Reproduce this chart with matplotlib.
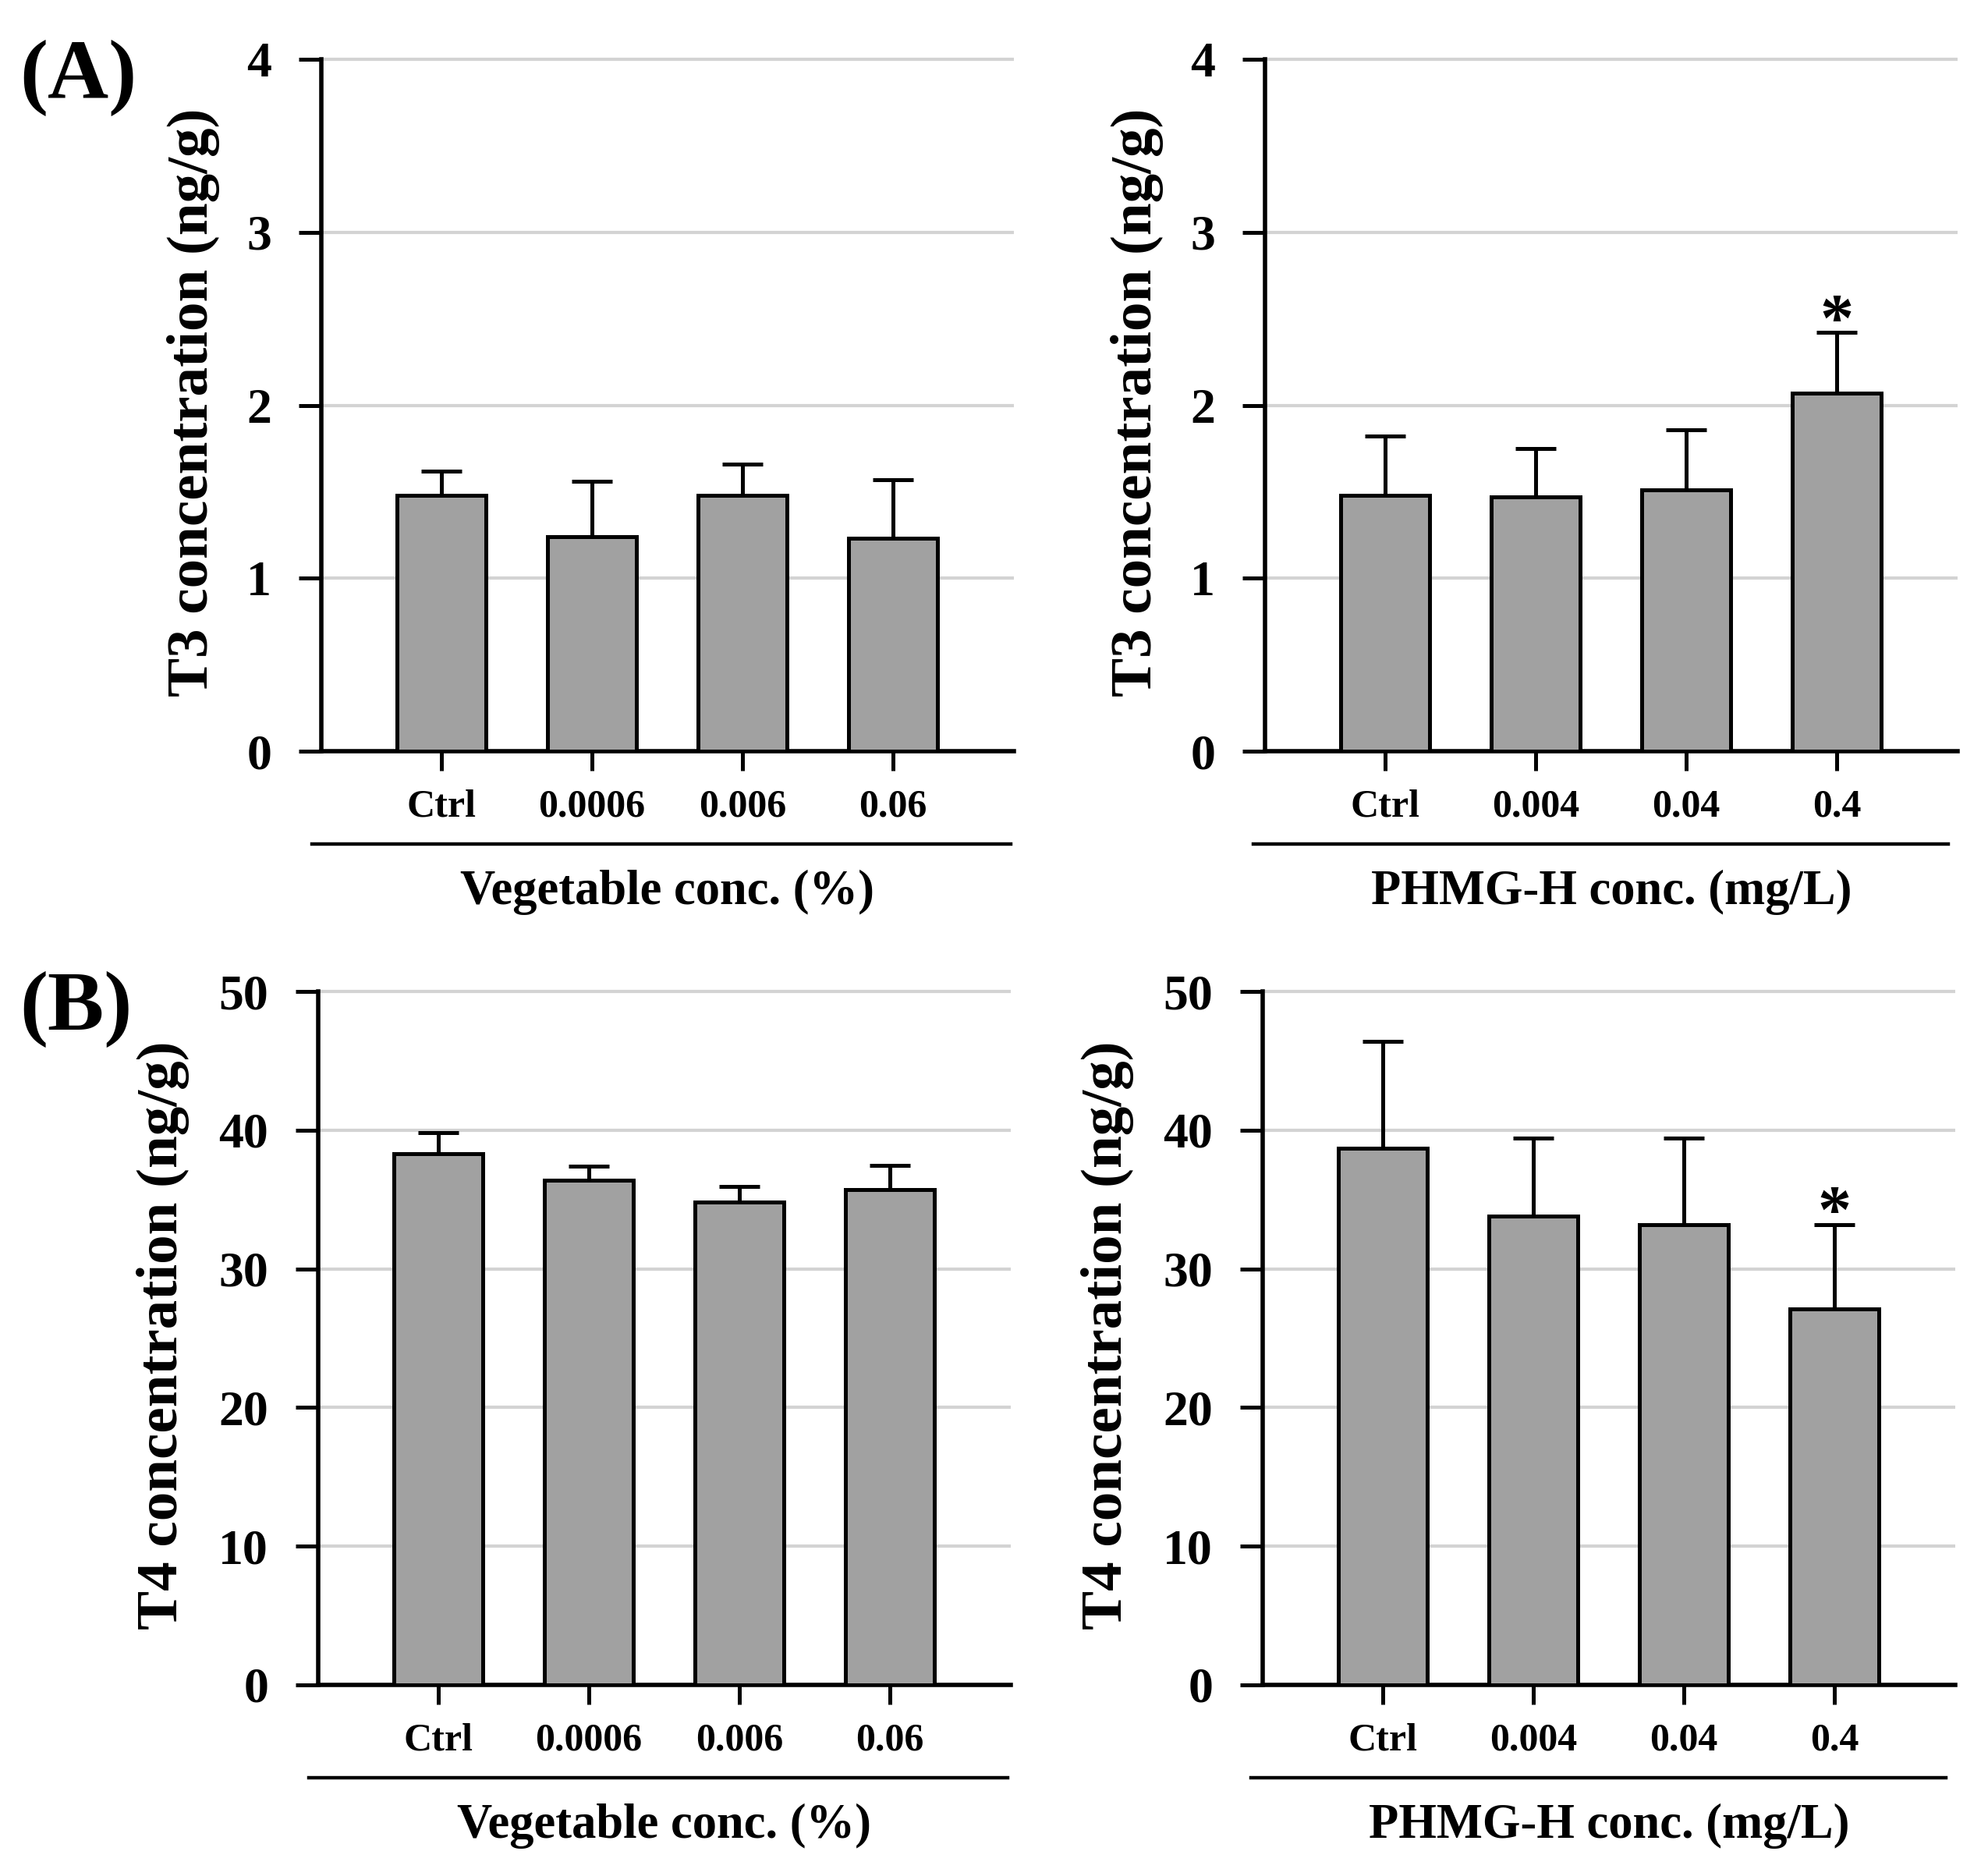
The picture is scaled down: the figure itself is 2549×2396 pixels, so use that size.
import matplotlib
matplotlib.use("Agg")
import matplotlib.pyplot as plt
from matplotlib.lines import Line2D
import numpy as np

plt.rcParams['font.family'] = ['Liberation Serif', 'DejaVu Serif']
plt.rcParams['font.weight'] = 'bold'

# ---------------- data ----------------
veg_labels = ["Ctrl", "0.0006", "0.006", "0.06"]
phmg_labels = ["Ctrl", "0.004", "0.04", "0.4"]

t3_veg_mean = [1.48, 1.24, 1.48, 1.23]
t3_veg_err = [0.14, 0.32, 0.18, 0.34]
t3_phmg_mean = [1.48, 1.47, 1.51, 2.07]
t3_phmg_err = [0.34, 0.28, 0.35, 0.35]

t4_veg_mean = [38.3, 36.4, 34.8, 35.7]
t4_veg_err = [1.5, 1.0, 1.15, 1.75]
t4_phmg_mean = [38.7, 33.8, 33.2, 27.1]
t4_phmg_err = [7.7, 5.6, 6.2, 6.1]

t3_phmg_sig = [False, False, False, True]
t4_phmg_sig = [False, False, False, True]

veg_xlabel = "Vegetable conc. (%)"
phmg_xlabel = "PHMG-H conc. (mg/L)"
t3_ylabel = "T3 concentration (ng/g)"
t4_ylabel = "T4 concentration (ng/g)"

W, H = 2549, 2396
fig = plt.figure(figsize=(W / 100, H / 100), dpi=100)

EXTRA = 0.008  # small headroom so the top gridline is not clipped


def make_axes(x_px, top_px, bottom_px, width_px=888):
    h = (bottom_px - top_px) * (1 + EXTRA)
    return fig.add_axes([x_px / W, 1 - bottom_px / H, width_px / W, h / H])


def panel(ax, labels, means, errs, ymax, ystep, ylabel, xlabel, ylab_x,
          sig=None, sep=(-0.0135, 0.9955)):
    x = np.arange(len(labels))
    ax.set_axisbelow(True)
    ax.yaxis.grid(True, color='#d3d3d3', linewidth=3.0)
    ax.errorbar(x, means, yerr=[np.zeros(len(errs)), errs], fmt='none',
                ecolor='black', elinewidth=3.6, capsize=19, capthick=3.6,
                zorder=2)
    ax.bar(x, means, width=0.59, color='#a1a1a1', edgecolor='black',
           linewidth=3.6, zorder=3)
    ax.set_xlim(-0.798, 3.803)
    ax.set_ylim(0, ymax * (1 + EXTRA))
    ticks = np.arange(0, ymax + ystep / 2, ystep)
    ax.set_yticks(ticks)
    ax.set_yticklabels([str(int(v)) for v in ticks])
    ax.set_xticks(x)
    ax.set_xticklabels(labels)
    for s in ['top', 'right']:
        ax.spines[s].set_visible(False)
    ax.spines['left'].set_linewidth(4.0)
    ax.spines['bottom'].set_linewidth(4.0)
    ax.spines['left'].set_bounds(0, ymax)
    ax.tick_params(axis='y', direction='out', length=21, width=3.6,
                   pad=25, labelsize=46)
    ax.tick_params(axis='x', direction='out', length=18, width=3.6,
                   pad=17, labelsize=36)
    for t in ax.get_xticklabels() + ax.get_yticklabels():
        t.set_fontweight('bold')
    ax.set_ylabel(ylabel, fontsize=54, fontweight='bold')
    ax.yaxis.label.set_va('baseline')
    ax.yaxis.set_label_coords(ylab_x, 0.5)
    ax.set_xlabel(xlabel, fontsize=45, fontweight='bold')
    ax.xaxis.label.set_va('baseline')
    ax.xaxis.set_label_coords(0.5, -0.219)
    ax.add_line(Line2D(list(sep), [-0.133, -0.133], transform=ax.transAxes,
                       color='black', linewidth=3.2, clip_on=False))
    if sig is not None:
        for xi, m, e, s in zip(x, means, errs, sig):
            if s:
                ax.annotate('*', xy=(xi, m + e), xytext=(0, -7),
                            textcoords='offset points', ha='center',
                            va='baseline', fontsize=62, fontweight='bold')


axA1 = make_axes(412, 76, 963)
axA2 = make_axes(1622, 76, 963)
axB1 = make_axes(408, 1271, 2160)
axB2 = make_axes(1619, 1271, 2160)

panel(axA1, veg_labels, t3_veg_mean, t3_veg_err, 4, 1, t3_ylabel, veg_xlabel, -0.164)
panel(axA2, phmg_labels, t3_phmg_mean, t3_phmg_err, 4, 1, t3_ylabel, phmg_xlabel, -0.164,
      sig=t3_phmg_sig, sep=(-0.017, 0.9865))
panel(axB1, veg_labels, t4_veg_mean, t4_veg_err, 50, 10, t4_ylabel, veg_xlabel, -0.204)
panel(axB2, phmg_labels, t4_phmg_mean, t4_phmg_err, 50, 10, t4_ylabel, phmg_xlabel, -0.204,
      sig=t4_phmg_sig, sep=(-0.017, 0.9865))

fig.text(25 / W, 1 - 126 / H, "(A)", fontsize=78, fontweight='bold',
         ha='left', va='baseline')
fig.text(25 / W, 1 - 1320 / H, "(B)", fontsize=78, fontweight='bold',
         ha='left', va='baseline')

fig.savefig("out.png", dpi=100, facecolor='white')
